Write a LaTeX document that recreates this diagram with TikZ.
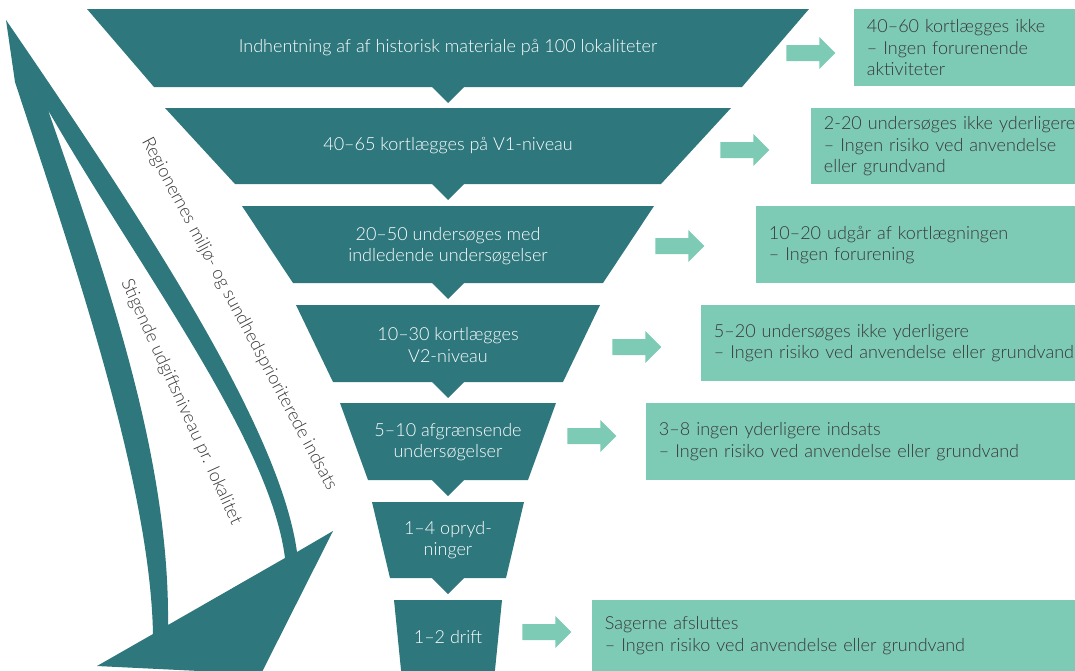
\documentclass[tikz,border=0pt]{standalone}
\usepackage{fontspec}
\setmainfont{Lato}[UprightFont=* Light]
\usetikzlibrary{shapes.arrows}
\definecolor{teal1}{RGB}{45,119,125}
\definecolor{mint}{RGB}{126,203,181}
\definecolor{txt}{RGB}{55,55,55}
\begin{document}
\begin{tikzpicture}[x=0.75pt,y=-0.75pt,
  trap/.style={fill=teal1},
  ttext/.style={text=white, font=\fontsize{13.5}{16}\selectfont, align=center, inner sep=0},
  lbl/.style={text=txt, font=\fontsize{13.5}{15}\selectfont, inner sep=0},
  gbox/.style={fill=mint, anchor=north west, inner xsep=9.5pt, inner ysep=0pt, align=left,
    text width=400pt, text=txt, font=\fontsize{13.5}{16}\selectfont},
  garrow/.style={single arrow, fill=mint, minimum height=36.75pt, inner xsep=0pt, inner ysep=5.8pt,
    single arrow head extend=6pt, single arrow tip angle=90, anchor=tail}
]
\path[use as bounding box] (0,0) rectangle (1075,671);

% big curved double arrow on the left
\fill[teal1, even odd rule]
  (6,20) -- (15,82) .. controls (70,250) and (150,480) .. (153,634)
  -- (97,666) -- (261,674) -- (333,531) -- (297,552)
  .. controls (280,430) and (150,230) .. (6,20) -- cycle
  (48,110) .. controls (100,260) and (170,450) .. (168,625)
  -- (285,558) .. controls (270,440) and (140,270) .. (48,110) -- cycle;

\node[lbl, rotate=-62] (r1) at (239,314) {Regionernes miljø- og sundhedsprioriterede indsats};
\node[lbl, rotate=-65.5] (r2) at (181,402) {Stigende udgiftsniveau pr. lokalitet};

% funnel
\fill[trap] (87,9) -- (809,9) -- (742,87) -- (154,87) -- cycle;
\fill[trap] (432,87) -- (464,87) -- (448,103) -- cycle;
\fill[trap] (165,108) -- (731,108) -- (661,184) -- (235,184) -- cycle;
\fill[trap] (432,184) -- (464,184) -- (448,200) -- cycle;
\fill[trap] (242,206) -- (654,206) -- (603,283) -- (293,283) -- cycle;
\fill[trap] (432,283) -- (464,283) -- (448,299) -- cycle;
\fill[trap] (296,305) -- (600,305) -- (563,382) -- (333,382) -- cycle;
\fill[trap] (432,382) -- (464,382) -- (448,398) -- cycle;
\fill[trap] (340,403) -- (556,403) -- (528,480) -- (368,480) -- cycle;
\fill[trap] (432,480) -- (464,480) -- (448,496) -- cycle;
\fill[trap] (372,502) -- (524,502) -- (506,578) -- (390,578) -- cycle;
\fill[trap] (432,578) -- (464,578) -- (448,594) -- cycle;
\fill[trap] (394,600) -- (502,600) -- (494,680) -- (402,680) -- cycle;

\node[ttext] (t1) at (448,48) {Indhentning af af historisk materiale på 100 lokaliteter};
\node[ttext] (t2) at (448,146) {40–65 kortlægges på V1-niveau};
\node[ttext] (t3) at (448,246) {20–50 undersøges med\\indledende undersøgelser};
\node[ttext] (t4) at (448,345) {10–30 kortlægges\\V2-niveau};
\node[ttext] (t5) at (448,442) {5–10 afgrænsende\\undersøgelser};
\node[ttext] (t6) at (448,540) {1–4 opryd-\\ninger};
\node[ttext] (t7) at (448,637) {1–2 drift};

% outcome boxes (they run on past the right edge, as in the reference)
\node[gbox, minimum height=57.75pt] (b1) at (854,9)
  {40–60 kortlægges ikke\\– Ingen forurenende\\aktiviteter};
\node[gbox, minimum height=57pt] (b2) at (811,108)
  {2-20 undersøges ikke yderligere\\– Ingen risiko ved anvendelse\\eller grundvand};
\node[gbox, minimum height=57.75pt] (b3) at (756,206)
  {10–20 udgår af kortlægningen\\– Ingen forurening};
\node[gbox, minimum height=57pt] (b4) at (701,305)
  {5–20 undersøges ikke yderligere\\– Ingen risiko ved anvendelse eller grundvand};
\node[gbox, minimum height=57.75pt] (b5) at (646,403)
  {3–8 ingen yderligere indsats\\– Ingen risiko ved anvendelse eller grundvand};
\node[gbox, minimum height=53.25pt] (b6) at (592,600)
  {Sagerne afsluttes\\– Ingen risiko ved anvendelse eller grundvand};

% arrows
\node[garrow] (a1) at (786,53) {};
\node[garrow] (a2) at (720,150) {};
\node[garrow] (a3) at (655,246) {};
\node[garrow] (a4) at (612,347) {};
\node[garrow] (a5) at (567,436) {};
\node[garrow] (a6) at (522,632) {};
\end{tikzpicture}
\end{document}
